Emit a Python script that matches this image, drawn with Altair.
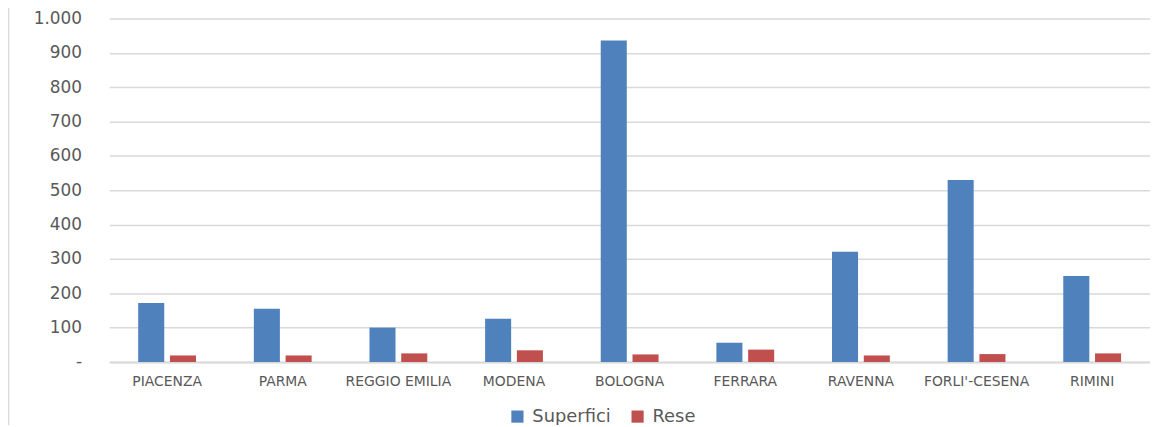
import altair as alt
import pandas as pd

provinces = ["PIACENZA", "PARMA", "REGGIO EMILIA", "MODENA", "BOLOGNA",
             "FERRARA", "RAVENNA", "FORLI'-CESENA", "RIMINI"]
superfici = [172, 155, 100, 126, 936, 56, 321, 530, 250]
rese = [19, 19, 25, 34, 22, 36, 19, 23, 25]
series = ["Superfici", "Rese"]
colors = ["#4F81BD", "#C0504D"]
y_ticks = [0, 100, 200, 300, 400, 500, 600, 700, 800, 900, 1000]

rows = []
for p, s, r in zip(provinces, superfici, rese):
    rows.append({"prov": p, "serie": "Superfici", "val": s})
    rows.append({"prov": p, "serie": "Rese", "val": r})
df = pd.DataFrame(rows)

bars = alt.Chart(df).mark_bar().encode(
    x=alt.X("prov:N", sort=provinces, title=None,
            scale=alt.Scale(paddingInner=0.5, paddingOuter=0.25),
            axis=alt.Axis(labelAngle=0, labelFont="DejaVu Sans", labelFontSize=14,
                          labelColor="#595959", labelPadding=13, ticks=False,
                          domainColor="#D9D9D9", domainWidth=2, grid=False)),
    xOffset=alt.XOffset("serie:N", sort=series, scale=alt.Scale(paddingInner=0.18)),
    y=alt.Y("val:Q", title=None,
            scale=alt.Scale(domain=[0, 1000], nice=False),
            axis=alt.Axis(values=y_ticks, domain=False, ticks=False,
                          labelFont="DejaVu Sans", labelFontSize=17,
                          labelColor="#595959", labelPadding=28,
                          gridColor="#D9D9D9", gridWidth=1.5,
                          labelExpr="datum.value == 0 ? '-' : replace(format(datum.value, ','), ',', '.')")),
    color=alt.Color("serie:N", sort=series,
                    scale=alt.Scale(domain=series, range=colors),
                    legend=alt.Legend(title=None, orient="none", direction="horizontal",
                                      legendX=402, legendY=392,
                                      symbolType="square", symbolSize=150,
                                      symbolStrokeWidth=0,
                                      labelFont="DejaVu Sans", labelFontSize=18,
                                      labelColor="#595959", columnPadding=18,
                                      labelOffset=6)),
)

border = alt.Chart(pd.DataFrame({"a": [0]})).mark_rule(color="#D9D9D9", strokeWidth=1.5).encode(
    x=alt.value(-101.5), y=alt.value(-12), y2=alt.value(420)
)

chart = alt.layer(bars, border).properties(
    width=1048, height=346,
    padding={"left": 102, "top": 9, "right": 0, "bottom": 62},
    autosize=alt.AutoSizeParams(type="none"),
).configure_view(stroke=None)

chart.save("out.html", embed_options={"renderer": "svg", "actions": False})
